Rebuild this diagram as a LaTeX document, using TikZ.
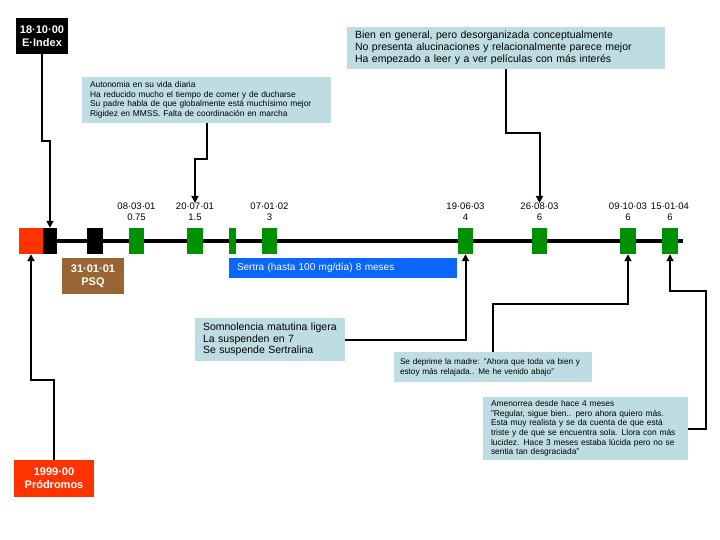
\documentclass[tikz,border=0pt]{standalone}
\usepackage{fontspec}
\setmainfont{Liberation Sans}
\usetikzlibrary{arrows.meta,positioning}
\definecolor{notefill}{HTML}{BEDDE3}
\definecolor{visitgreen}{HTML}{009100}
\definecolor{alarmred}{HTML}{FF3300}
\definecolor{sertblue}{HTML}{0A66FF}
\definecolor{psqbrown}{HTML}{996633}
\tikzset{
  note/.style={fill=notefill,align=left,inner xsep=8pt,inner ysep=0pt},
  tag/.style={text=white,align=center,font=\fontsize{11}{13}\selectfont\bfseries,inner sep=0pt},
  visit/.style={fill=visitgreen,minimum width=15pt,minimum height=26pt,inner sep=0pt},
  datelbl/.style={align=center,inner sep=0pt,font=\fontsize{9.5}{11}\selectfont},
  link/.style={line width=2pt,-{Triangle[length=7pt,width=7pt]}}
}
\begin{document}
\begin{tikzpicture}[x=1pt,y=-1pt]
\useasboundingbox[fill=white] (0,0) rectangle (720,540);
% timeline
\coordinate (tlend) at (683,241);
\node[fill=alarmred,minimum width=24pt,minimum height=26pt,inner sep=0pt] (r) at (31,241) {};
\node[fill=black,minimum width=14pt,minimum height=26pt,inner sep=0pt] (b1) at (50,241) {};
\draw[line width=3.5pt] (b1.east) -- (tlend);
\node[fill=black,minimum width=16pt,minimum height=26pt,inner sep=0pt] (b2) at (95,241) {};
\node[visit] (g1) at (136.5,241) {};
\node[visit,minimum width=16pt] (g2) at (195,241) {};
\node[visit,minimum width=7pt] (g3) at (232.5,241) {};
\node[visit] (g4) at (269.5,241) {};
\node[visit] (g5) at (465.5,241) {};
\node[visit] (g6) at (539.5,241) {};
\node[visit,minimum width=16pt] (g7) at (628,241) {};
\node[visit,minimum width=16pt] (g8) at (670,241) {};
% dates and doses
\node[datelbl] (l1) at (136.5,212) {08·03·01\\0.75};
\node[datelbl] (l2) at (195,212) {20·07·01\\1.5};
\node[datelbl] (l4) at (269.5,212) {07·01·02\\3};
\node[datelbl] (l5) at (465.5,212) {19·06·03\\4};
\node[datelbl] (l6) at (539.5,212) {26·08·03\\6};
\node[datelbl] (l7) at (628,212) {09·10·03\\6};
\node[datelbl] (l8) at (670,212) {15·01·04\\6};
% tags
\node[tag,fill=black,minimum width=52pt,minimum height=36pt] (eidx) at (42,36) {18·10·00\\E·Index};
\node[tag,fill=psqbrown,minimum width=62pt,minimum height=36pt] (psq) at (93,276) {31·01·01\\PSQ};
\node[tag,fill=alarmred,minimum width=80pt,minimum height=37pt] (prod) at (54,478.5) {1999·00\\Pródromos};
\node[fill=sertblue,text=white,inner xsep=8pt,inner ysep=0pt,minimum height=20pt,text width=212pt,align=left,font=\fontsize{10}{11}\selectfont] (sert) at (343,268) {Sertra (hasta 100 mg/día) 8 meses};
% notes
\node[note,text width=302pt,minimum height=42pt,font=\fontsize{10.5}{12}\selectfont] (bien) at (506,48) {Bien en general, pero desorganizada conceptualmente\\No presenta alucinaciones y relacionalmente parece mejor\\Ha empezado a leer y a ver películas con más interés};
\node[note,text width=233pt,minimum height=46pt,font=\fontsize{8.4}{9.5}\selectfont] (auto) at (206.5,100) {Autonomia en su vida diaria\\Ha reducido mucho el tiempo de comer y de ducharse\\Su padre habla de que globalmente está muchísimo mejor\\Rigidez en MMSS. Falta de coordinación en marcha};
\node[note,text width=134pt,minimum height=43pt,font=\fontsize{10.5}{11.5}\selectfont] (somn) at (270,339.5) {Somnolencia matutina ligera\\La suspenden en 7\\Se suspende Sertralina};
\node[note,inner xsep=6pt,text width=186pt,minimum height=30pt,font=\fontsize{8.2}{10}\selectfont] (madre) at (493,367) {Se deprime la madre: "Ahora que toda va bien y\\estoy más relajada.. Me he venido abajo"};
\node[note,text width=189pt,minimum height=63pt,font=\fontsize{8.4}{9.6}\selectfont] (amen) at (585.5,428.5) {Amenorrea desde hace 4 meses\\"Regular, sigue bien.. pero ahora quiero más.\\Esta muy realista y se da cuenta de que está\\triste y de que se encuentra sola. Llora con más\\lucidez. Hace 3 meses estaba lúcida pero no se\\sentia tan desgraciada"};
% connectors
\draw[link] (eidx.south) -- ++(0,87) -| (b1.north);
\draw[link] (auto.south) -- ++(0,36) -| (l2.north);
\draw[link] (bien.south) -- ++(0,64) -| (l6.north);
\draw[link] (somn.east) -| (g5.south);
\draw[link] (madre.north) -- ++(0,-48) -| (g7.south);
\draw[link] (amen.east) -- ++(18,0) -- ++(0,-138) -| (g8.south);
\draw[link] (prod.north) -- ++(0,-80) -| (r.south);
\end{tikzpicture}
\end{document}
